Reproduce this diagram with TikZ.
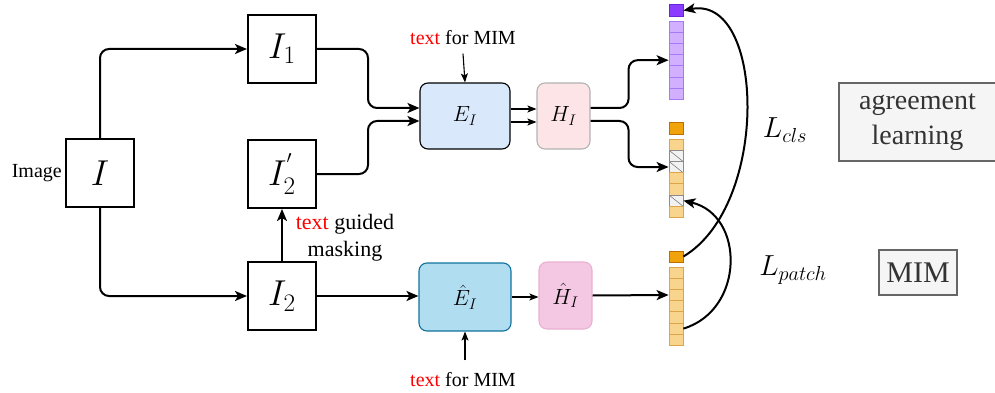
\documentclass[tikz,border=0pt]{standalone}
\usepackage{fontspec}
\setmainfont{Liberation Serif}
\usepackage{fix-cm}
\usetikzlibrary{arrows.meta,calc}

\definecolor{encfill}{HTML}{DAE8FC}
\definecolor{headfill}{HTML}{FDE4E6}
\definecolor{headline}{HTML}{B3B3B3}
\definecolor{encmfill}{HTML}{B1DDF0}
\definecolor{encmline}{HTML}{10739E}
\definecolor{headmfill}{HTML}{F4C8E2}
\definecolor{headmline}{HTML}{EAB0D2}
\definecolor{clspurple}{HTML}{8A3CFF}
\definecolor{clspurpleline}{HTML}{6A25D8}
\definecolor{patpurple}{HTML}{D2B0FF}
\definecolor{patpurpleline}{HTML}{A57AF5}
\definecolor{clsorange}{HTML}{F0A30A}
\definecolor{clsorangeline}{HTML}{BD7000}
\definecolor{patorange}{HTML}{F9D48C}
\definecolor{patorangeline}{HTML}{DCA54A}
\definecolor{maskfill}{HTML}{F2F2F2}
\definecolor{notebox}{HTML}{F5F5F5}
\definecolor{notetext}{HTML}{333333}
\definecolor{txtred}{HTML}{FF0000}

\newcommand{\fs}[1]{\fontsize{#1}{#1}\selectfont}

\tikzset{
  sqbox/.style={draw, line width=2pt, minimum width=68, minimum height=68, inner sep=0pt, font=\fs{36}},
  encbox/.style={draw, rounded corners=8pt, line width=1.1pt, inner sep=0pt, font=\fs{22}},
  conn/.style={line width=2pt, rounded corners=9pt, -{Stealth[length=12pt,width=10pt,inset=3pt]}},
  thinconn/.style={line width=1.1pt, -{Stealth[length=9pt,width=7pt,inset=2pt]}},
  tok/.style={draw, line width=0.8pt, minimum width=14, minimum height=11.2, inner sep=0pt},
  tokcp/.style={tok, fill=clspurple, draw=clspurpleline},
  tokp/.style={tok, fill=patpurple, draw=patpurpleline},
  tokco/.style={tok, fill=clsorange, draw=clsorangeline},
  toko/.style={tok, fill=patorange, draw=patorangeline},
  tokx/.style={tok, fill=maskfill, draw=gray!90,
    path picture={\draw[gray, line width=0.6pt] (path picture bounding box.north west) -- (path picture bounding box.south east);}},
  note/.style={draw=gray!80!black, line width=1.2pt, fill=notebox, text=notetext, inner sep=0pt, align=center},
}

\begin{document}
\begin{tikzpicture}[x=1pt, y=-1pt]
\useasboundingbox (0,0) rectangle (995,393);

% image and its two views
\node[sqbox] (img) at (100,173) {$I$};
\node[anchor=east, font=\fs{20}, inner sep=3pt] (imglbl) at (img.west) {Image};
\node[sqbox] (I1) at (282,49) {$I_1$};
\node[sqbox] (I2p) at (282,174) {$I_2^{'}$};
\node[sqbox] (I2) at (282,296) {$I_2$};

% encoders and heads
\node[encbox, fill=encfill, minimum width=90, minimum height=66] (enc) at (465,116) {$E_I$};
\node[encbox, fill=headfill, draw=headline, minimum width=53, minimum height=66] (head) at (563.5,116) {$H_I$};
\node[encbox, fill=encmfill, draw=encmline, minimum width=92, minimum height=68] (encm) at (465,297) {$\hat{E}_I$};
\node[encbox, fill=headmfill, draw=headmline, minimum width=53, minimum height=67] (headm) at (565.5,295.5) {$\hat{H}_I$};

% text inputs
\node[font=\fs{20}] (txtA) at (463,38) {\textcolor{txtred}{text} for MIM};
\node[font=\fs{20}] (txtB) at (463,380) {\textcolor{txtred}{text} for MIM};
\node[font=\fs{22}, align=center, inner sep=0pt] (txtG) at (345,238)
  {\textcolor{txtred}{text} guided\\[5pt]masking};

% token columns
\node[tokcp] (ac) at (676,10.5) {};
\foreach \k in {0,...,6} {
  \node[tokp] (a\k) at (676,26.6+11.2*\k) {};
}
\node[tokco] (mc) at (676,128.5) {};
\foreach \k/\s in {0/toko,1/tokx,2/tokx,3/toko,4/toko,5/tokx,6/toko} {
  \node[\s] (m\k) at (676,144.6+11.2*\k) {};
}
\node[tokco] (bc) at (676,256.5) {};
\foreach \k in {0,...,6} {
  \node[toko] (b\k) at (676,272.6+11.2*\k) {};
}

% connectors
\draw[conn] (img.north) |- (I1.west);
\draw[conn] (img.south) |- (I2.west);
\draw[conn] (I2.north) -- (I2p.south);
\draw[conn] (I1.east) -- ++(51,0) |- ([yshift=8pt]enc.west);
\draw[conn] (I2p.east) -- ++(51,0) |- ([yshift=-5pt]enc.west);
\draw[thinconn] ([yshift=7pt]enc.east) -- ([yshift=7pt]head.west);
\draw[thinconn] ([yshift=-6pt]enc.east) -- ([yshift=-6pt]head.west);
\draw[conn] ([yshift=8pt]head.east) -- ++(38,0) |- (a3.west);
\draw[conn] ([yshift=-5pt]head.east) -- ++(38,0) |- (m2.west);
\draw[thinconn] ([yshift=-5pt]txtA.south) -- (enc.north);
\draw[thinconn] (encm.south |- txtB.north) ++(0,-9) -- (encm.south);
\draw[conn] (I2.east) -- (I2.east -| encm.west);
\draw[thinconn] (encm.east) -- (encm.east -| headm.west);
\draw[conn] (headm.east) -- (b2.west);

% losses
\draw[conn] (bc.east) .. controls (770,205) and (765,-5) .. (ac.east);
\draw[conn] (b5.east) .. controls (745,310) and (745,215) .. (m5.east);
\node[font=\fs{29}] (lcls) at (785,130) {$L_{cls}$};
\node[font=\fs{29}] (lpatch) at (793,270) {$L_{patch}$};

% legend boxes
\node[note, minimum width=157, minimum height=78, font=\fs{28}] (agree) at (917.5,122)
  {agreement\\[7pt]learning};
\node[note, minimum width=78, minimum height=45, font=\fs{30}] (mim) at (918,272.5) {MIM};
\end{tikzpicture}
\end{document}
